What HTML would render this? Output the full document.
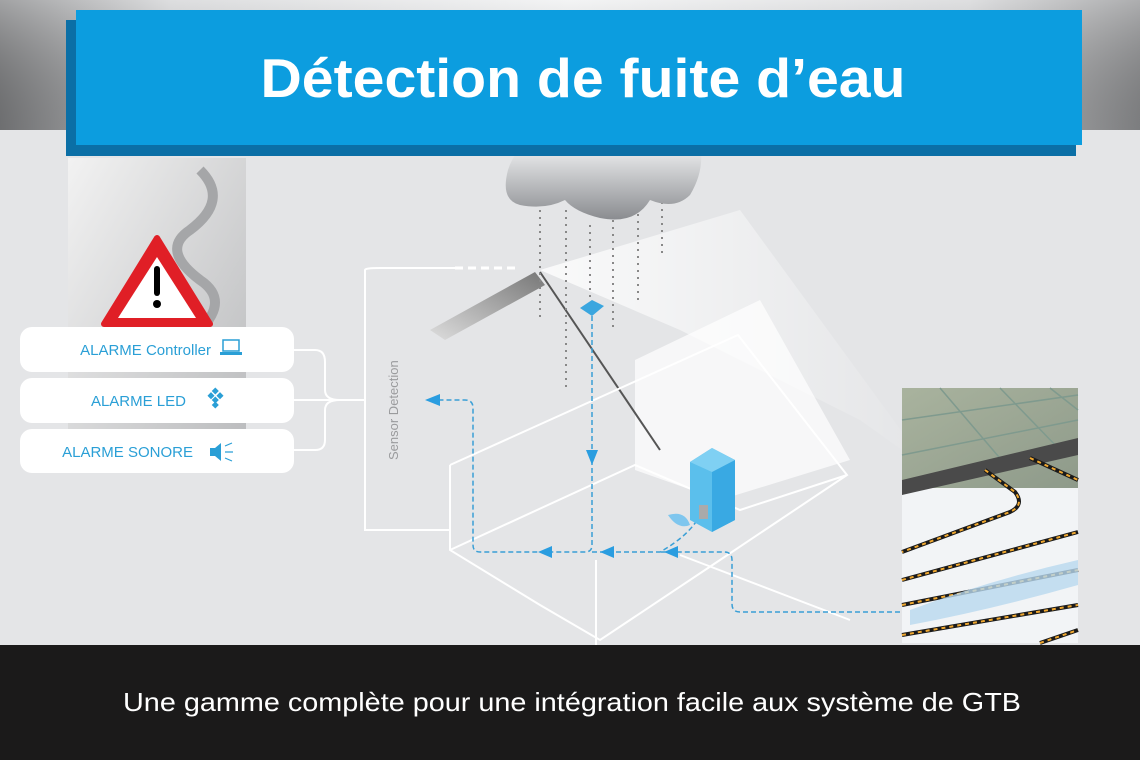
<!DOCTYPE html>
<html><head><meta charset="utf-8"><style>
html,body{margin:0;padding:0;width:1140px;height:760px;overflow:hidden;font-family:"Liberation Sans",sans-serif}
</style></head><body>
<svg width="1140" height="760" viewBox="0 0 1140 760" xmlns="http://www.w3.org/2000/svg">
<defs>
<linearGradient id="metal" x1="0" x2="1" y1="0" y2="0">
<stop offset="0" stop-color="#7a7b7d"/><stop offset="0.15" stop-color="#cfd0d2"/><stop offset="0.5" stop-color="#eeeff0"/><stop offset="0.85" stop-color="#d0d1d3"/><stop offset="1" stop-color="#8a8b8d"/></linearGradient>
<linearGradient id="metalv" x1="0" x2="0" y1="0" y2="1">
<stop offset="0" stop-color="#fff" stop-opacity="0.3"/><stop offset="1" stop-color="#000" stop-opacity="0.1"/></linearGradient>
<linearGradient id="cloud" x1="0" x2="0" y1="0" y2="1">
<stop offset="0" stop-color="#f0f1f2"/><stop offset="1" stop-color="#8a8c90"/></linearGradient>
<linearGradient id="photo" x1="0" x2="1" y1="0" y2="1">
<stop offset="0" stop-color="#f2f2f2"/><stop offset="1" stop-color="#b8b9bb"/></linearGradient>
<linearGradient id="wall" x1="0" x2="1"><stop offset="0" stop-color="#fff"/><stop offset="1" stop-color="#fff" stop-opacity="0"/></linearGradient>
<linearGradient id="roofL" x1="1" x2="0" y1="0" y2="1"><stop offset="0" stop-color="#777"/><stop offset="1" stop-color="#ddd"/></linearGradient>
<linearGradient id="tile" x1="0" x2="1" y1="0" y2="1"><stop offset="0" stop-color="#a9b39e"/><stop offset="1" stop-color="#8e9a8a"/></linearGradient>
</defs>
<rect width="1140" height="760" fill="#e4e5e7"/>
<rect width="1140" height="130" fill="url(#metal)"/>
<rect width="1140" height="130" fill="url(#metalv)"/>
<!-- house -->
<polygon points="540,270 740,210 930,470 860,420 680,330" fill="url(#wall)" opacity="0.8"/>
<polygon points="635,360 760,300 850,460 720,500 635,470" fill="#fff" opacity="0.7"/>
<polygon points="430,330 535,272 545,285 445,340" fill="url(#roofL)"/>
<line x1="540" y1="272" x2="660" y2="450" stroke="#555" stroke-width="2"/>
<g fill="none" stroke="#fff" stroke-width="2">
<path d="M450,465 L450,550 L540,605 L600,640 L720,560 L847,475 L738,335 L450,465"/>
<path d="M450,550 L635,465 L740,510 L847,475"/>
<path d="M596,560 L596,645 M680,555 L850,620"/>
<path d="M365,270 L365,530 L450,530"/>
<path d="M365,270 Q365,268 380,268 L455,268"/>
</g>
<path d="M455,268 L515,268" stroke="#fff" stroke-width="3" stroke-dasharray="8,5"/>
<!-- rain -->
<g stroke="#888" stroke-width="2" stroke-dasharray="2,5">
<line x1="540" y1="210" x2="540" y2="320"/><line x1="566" y1="210" x2="566" y2="390"/>
<line x1="590" y1="225" x2="590" y2="300"/><line x1="613" y1="220" x2="613" y2="330"/>
<line x1="638" y1="200" x2="638" y2="300"/><line x1="662" y1="195" x2="662" y2="258"/>
</g>
<path d="M520,205 Q500,200 508,170 Q515,148 530,145 L700,145 Q705,170 690,195 Q675,210 650,200 Q635,225 600,218 Q575,212 565,200 Q545,210 520,205Z" fill="url(#cloud)"/>
<!-- sensor -->
<polygon points="580,308 592,300 604,306 592,316" fill="#3aa6df"/>
<!-- arrows -->
<g fill="none" stroke="#3a9fd6" stroke-width="1.5" stroke-dasharray="5,3">
<path d="M592,316 L592,545 Q592,552 585,552 L480,552 Q473,552 473,545 L473,408 Q473,400 465,400 L430,400"/>
<path d="M592,552 L660,552 Q690,535 700,515"/>
<path d="M900,612 L740,612 Q732,612 732,604 L732,560 Q732,552 724,552 L660,552"/>
</g>
<g fill="#2a9de0">
<polygon points="425,400 440,394 440,406"/><polygon points="538,552 552,546 552,558"/>
<polygon points="600,552 614,546 614,558"/><polygon points="664,552 678,546 678,558"/>
<polygon points="586,450 598,450 592,465"/>
</g>
<!-- device -->
<polygon points="690,462 712,448 735,460 735,520 712,532 690,520" fill="#5bbfec"/>
<polygon points="712,460 735,460 735,520 712,532" fill="#39a9e3"/>
<polygon points="690,462 712,448 735,460 712,472" fill="#7fd0f3"/>
<rect x="699" y="505" width="9" height="14" fill="#aaa"/>
<path d="M668,515 Q685,510 690,525 Q678,530 668,515Z" fill="#7fc6ee"/>
<!-- floor photo -->
<rect x="902" y="388" width="176" height="255" fill="#f2f4f6"/>
<rect x="902" y="388" width="176" height="100" fill="url(#tile)"/>
<g stroke="#7f9a8e" stroke-width="1.5" fill="none"><path d="M902,420 L1078,395 M902,455 L1078,420 M940,388 L1010,470 M1000,388 L1060,450 M1050,388 L1078,410"/></g>
<polygon points="902,480 1078,438 1078,455 902,495" fill="#4a4a4a"/>
<g fill="none" stroke="#1a1a1a" stroke-width="4"><path d="M985,470 L1015,492 Q1025,505 1010,512 L902,552"/><path d="M1030,458 L1078,480"/><path d="M902,580 L1078,532"/><path d="M902,605 L1078,570"/><path d="M902,635 L1078,605"/><path d="M1040,643 L1078,630"/></g>
<g fill="none" stroke="#f0a830" stroke-width="2" stroke-dasharray="4,4"><path d="M985,470 L1015,492 Q1025,505 1010,512 L902,552"/><path d="M1030,458 L1078,480"/><path d="M902,580 L1078,532"/><path d="M902,605 L1078,570"/><path d="M902,635 L1078,605"/><path d="M1040,643 L1078,630"/></g>
<path d="M910,610 Q990,580 1078,560 L1078,585 Q990,610 910,625Z" fill="#b8d8ef" opacity="0.8"/>
<!-- left photo -->
<rect x="68" y="158" width="178" height="312" fill="url(#photo)"/>
<path d="M200,170 Q230,200 190,230 Q160,250 200,280 Q230,300 200,330 M110,330 Q130,290 170,285" fill="none" stroke="#a5a6a8" stroke-width="10"/>
<polygon points="157,238 210,324 104,324" fill="#e01f26" stroke="#e01f26" stroke-width="6" stroke-linejoin="round"/>
<polygon points="157,257 196,318 118,318" fill="#fff"/>
<rect x="154" y="266" width="6" height="30" rx="3" fill="#000"/><circle cx="157" cy="304" r="4" fill="#000"/>
<!-- connectors -->
<g fill="none" stroke="#fff" stroke-width="2">
<path d="M294,350 L315,350 Q325,350 325,362 L325,390 Q325,400 340,400 L365,400"/>
<path d="M294,450 L315,450 Q325,450 325,440 L325,410 Q325,400 340,400"/>
<path d="M294,400 L340,400"/>
</g>
<g fill="#fff"><rect x="20" y="327" width="274" height="45" rx="12"/><rect x="20" y="378" width="274" height="45" rx="12"/><rect x="20" y="429" width="274" height="44" rx="12"/></g>
<g font-size="15" fill="#2a9fd6" text-anchor="end">
<text x="211" y="355">ALARME Controller</text><text x="186" y="406">ALARME LED</text><text x="193" y="457">ALARME SONORE</text></g>
<rect x="223" y="340" width="16" height="11" fill="none" stroke="#2a9fd6" stroke-width="1.5"/><rect x="220" y="352" width="22" height="3" fill="#2a9fd6"/>
<g fill="#2a9fd6"><rect x="209" y="393" width="5" height="5" transform="rotate(45 211 395)"/><rect x="218" y="393" width="5" height="5" transform="rotate(45 220 395)"/><rect x="213" y="398" width="5" height="5" transform="rotate(45 216 400)"/><rect x="213" y="389" width="5" height="5" transform="rotate(45 216 391)"/><rect x="213" y="403" width="5" height="5" transform="rotate(45 216 405)"/>
<polygon points="210,448 215,448 221,443 221,461 215,456 210,456"/></g>
<path d="M225,446 L232,443 M225,452 L233,452 M225,458 L232,461" stroke="#2a9fd6" stroke-width="1.2"/>
<text transform="translate(398,460) rotate(-90)" font-size="13" fill="#9a9b9d">Sensor Detection</text>
<!-- title -->
<rect x="66" y="20" width="1010" height="136" fill="#0b6fa6"/>
<rect x="76" y="10" width="1006" height="135" fill="#0c9ddf"/>
<text x="583" y="97" text-anchor="middle" font-size="55" font-weight="bold" fill="#fff" textLength="645" lengthAdjust="spacingAndGlyphs">Détection de fuite d’eau</text>
<!-- bottom -->
<rect x="0" y="645" width="1140" height="115" fill="#1b1a1a"/>
<text x="572" y="711" text-anchor="middle" font-size="26" fill="#fff" textLength="898" lengthAdjust="spacingAndGlyphs">Une gamme complète pour une intégration facile aux système de GTB</text>
</svg>
</body></html>
